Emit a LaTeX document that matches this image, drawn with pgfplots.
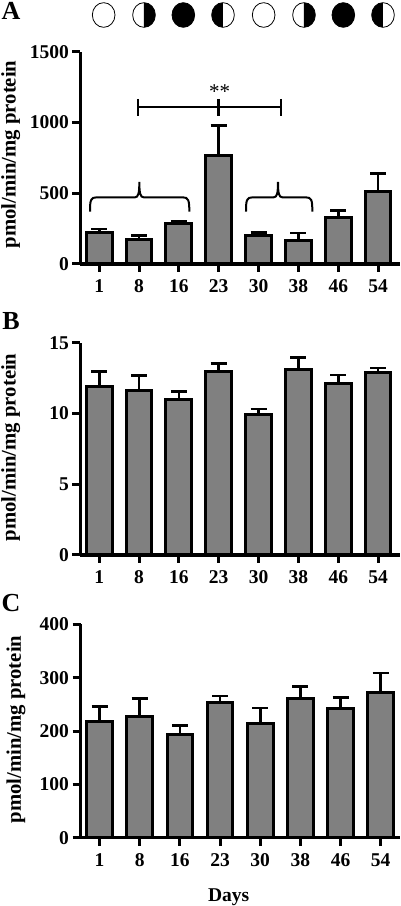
\documentclass[border=0pt]{standalone}
\usepackage{fontspec}
\setmainfont{Liberation Serif}
\usepackage{pgfplots}
\usepackage{pgfplotstable}
\pgfplotsset{compat=1.18}
\definecolor{bargray}{gray}{0.5}
\pgfplotstableread{
x y e
0 224 23
1 170 30
2 283 16
3 770 210
4 198 23
5 167 52
6 330 49
7 509 131
}\dataA
\pgfplotstableread{
x y e
0 11.94 1.01
1 11.65 1.02
2 11.00 0.56
3 13.00 0.54
4 9.94 0.37
5 13.09 0.85
6 12.13 0.58
7 12.86 0.34
}\dataB
\pgfplotstableread{
x y e
0 217.5 28
1 227 34
2 194 16
3 252.5 13
4 214 29
5 260.6 22.4
6 242.5 20
7 272.5 36.5
}\dataC
\pgfplotsset{panel/.style={
  scale only axis, anchor=south west, clip=false,
  axis x line*=bottom, axis y line*=left,
  axis line style={-,line width=3.4pt,black},
  ymin=0, xtick={0,...,7}, xticklabels={1,8,16,23,30,38,46,54},
  tick style={line width=3pt,black},
  major tick length=8pt, tick align=outside,
  x tick label style={font=\fontsize{19.5}{19.5}\bfseries, yshift=-4pt},
  y tick label style={font=\fontsize{19.5}{19.5}\bfseries, xshift=0pt},
  /pgf/number format/assume math mode=true,
  /pgf/number format/set thousands separator={},
  every axis y label/.style={rotate=90,anchor=base,font=\fontsize{20.7}{20.7}\bfseries},
}}
\pgfplotsset{barplot/.style={ybar,bar width=25.8pt,bar shift=0pt,fill=bargray,draw=black,line width=3pt,mark=none,
  error bars/.cd,y dir=plus,y explicit,
  error bar style={line width=2.6pt,black},
  error mark options={rotate=90,mark size=8pt,line width=2.6pt,black}}}
\begin{document}
\begin{tikzpicture}[x=1pt,y=1pt]
\path[use as bounding box] (0,0) rectangle (400,906);
\begin{axis}[panel, at={(80.5pt,642pt)}, width=319.5pt, height=212.3pt,
  xmin=-0.47, xmax=7.55, ymax=1500, ytick={0,500,1000,1500},
  ylabel={pmol/min/mg protein},
  ylabel style={at={(axis description cs:-0.203,0.516)}}]
\addplot[barplot] table[x=x,y=y,y error=e] {\dataA};
\end{axis}
\begin{axis}[panel, at={(80.5pt,351pt)}, width=319.5pt, height=212.3pt,
  xmin=-0.47, xmax=7.55, ymax=15, ytick={0,5,10,15},
  ylabel={pmol/min/mg protein},
  ylabel style={at={(axis description cs:-0.203,0.507)}}]
\addplot[barplot] table[x=x,y=y,y error=e] {\dataB};
\end{axis}
\begin{axis}[panel, at={(80.5pt,68.3pt)}, width=319.5pt, height=213.4pt,
  xmin=-0.475, xmax=7.48, ymax=400, ytick={0,100,200,300,400},
  ylabel={pmol/min/mg protein},
  ylabel style={at={(axis description cs:-0.187,0.507)}}]
\addplot[barplot] table[x=x,y=y,y error=e] {\dataC};
\end{axis}
\begin{scope}[x=1pt/3,y=-1pt/3,shift={(0pt,906pt)}]
% panel letters and axis title
\node[anchor=base,font=\fontsize{26}{26}\bfseries] at (33,60) {A};
\node[anchor=base,font=\fontsize{26}{26}\bfseries] at (33,990) {B};
\node[anchor=base,font=\fontsize{26}{26}\bfseries] at (33,1835) {C};
\node[anchor=base,font=\fontsize{19.5}{20}\bfseries] at (686,2704) {Days};
% significance bracket
\draw[line width=2.3pt] (414,322) -- (843,322);
\foreach \q in {414,655,843} \draw[line width=2.6pt] (\q,297) -- (\q,347);
\node[font=\fontsize{21}{21}\selectfont] at (659,276) {**};
% braces
\draw[line width=2pt] (270,635) .. controls (270,600) and (272,592) .. (290,592) -- (405,592)
  .. controls (415,592) and (418,580) .. (418,546) .. controls (418,580) and (421,592) .. (431,592)
  -- (548,592) .. controls (565,592) and (568,600) .. (568,635);
\draw[line width=2pt] (738,635) .. controls (738,600) and (740,592) .. (758,592) -- (821,592)
  .. controls (831,592) and (834,580) .. (834,546) .. controls (834,580) and (837,592) .. (847,592)
  -- (917,592) .. controls (935,592) and (937,600) .. (937,635);
% moons
\foreach \c in {311,791}
  \draw[line width=0.8pt,fill=white] (\c,45) ellipse [x radius=34,y radius=37];
\foreach \c in {550,1030}
  \draw[line width=0.8pt,fill=black] (\c,45) ellipse [x radius=34,y radius=37];
\foreach \c in {432,912}{
  \draw[line width=0.8pt,fill=white] (\c,45) ellipse [x radius=34,y radius=37];
  \fill (\c,8) arc[start angle=-90,end angle=90,x radius=34,y radius=37] -- cycle;
}
\foreach \c in {669,1149}{
  \draw[line width=0.8pt,fill=white] (\c,45) ellipse [x radius=34,y radius=37];
  \fill (\c,8) arc[start angle=270,end angle=90,x radius=34,y radius=37] -- cycle;
}
\end{scope}
\end{tikzpicture}
\end{document}
